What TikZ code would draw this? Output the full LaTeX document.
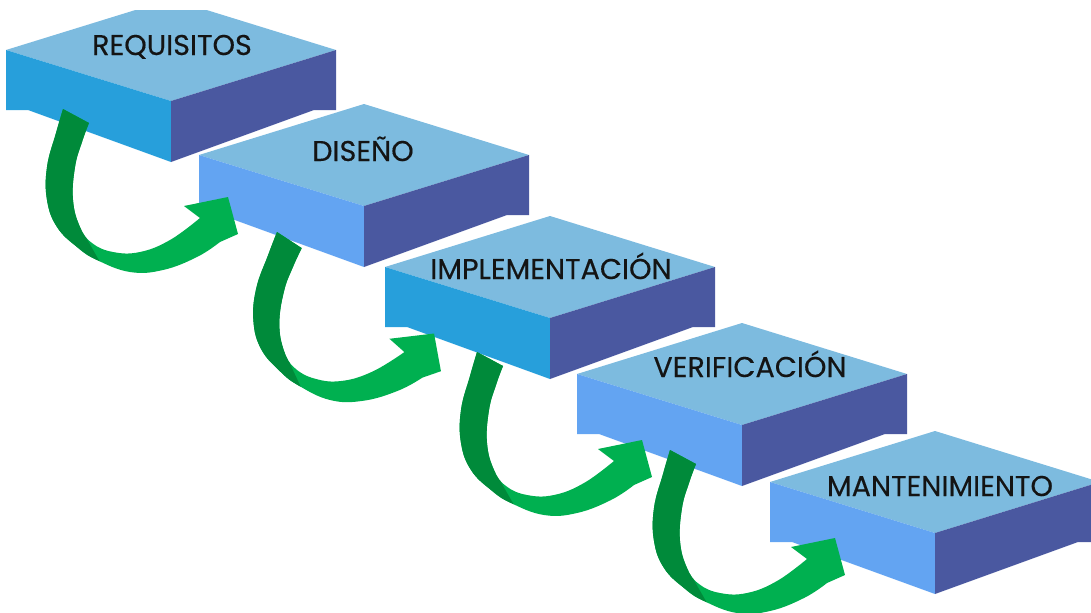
\documentclass[tikz,border=0pt]{standalone}
\usepackage{fontspec}
\newfontfamily\labelfont{Poppins}[FakeBold=0.3]

\definecolor{slabtop}{HTML}{7DBBDF}
\definecolor{sidecyan}{HTML}{279FDB}
\definecolor{sidesky}{HTML}{63A4F2}
\definecolor{slabright}{HTML}{4A58A0}
\definecolor{arrowdark}{HTML}{008A3A}
\definecolor{arrowlight}{HTML}{00B050}

% one stair step: #1 name, #2 x and #3 y of the front corner of the top face, #4 colour of the left face
\newcommand\slab[4]{%
  \begin{scope}[shift={(#2,#3)}]
    \coordinate (#1-f)  at (0,0);
    \coordinate (#1-l)  at (-165,-51);
    \coordinate (#1-r)  at (165,-51);
    \coordinate (#1-t)  at (0,-102);
    \coordinate (#1-fb) at (0,61);
    \coordinate (#1-lb) at (-165,9);
    \coordinate (#1-ln) at (-143,9);
    \coordinate (#1-rb) at (165,9);
    \coordinate (#1-rn) at (143,9);
    \fill[slabtop]   (#1-l) -- (#1-t) -- (#1-r) -- (#1-f) -- cycle;
    \fill[#4]        (#1-l) -- (#1-f) -- (#1-fb) -- (#1-ln) -- (#1-lb) -- cycle;
    \fill[slabright] (#1-f) -- (#1-r) -- (#1-rb) -- (#1-rn) -- (#1-fb) -- cycle;
  \end{scope}}

% outline of the curved ribbon arrow, tail corner at the origin
\newcommand\ribbonoutline{%
  plot[smooth,tension=0.7] coordinates {(0,0) (-7,24) (-16,58) (-16,91) (-6,118) (14,138) (34,151) (67,163) (100,161) (134,148) (157,133)}
  -- (175,125) -- (165,88) -- (121,97)
  -- plot[smooth,tension=0.7] coordinates {(137,109) (107,131) (77,143) (50,143) (29,134) (17,118) (10,91) (12,58) (19,33) (26,14)}
  -- cycle}

% #1 name, #2 tail corner, #3 rotation
\newcommand\ribbonarrow[3]{%
  \begin{scope}[shift={#2}, rotate=#3]
    \coordinate (#1-tail) at (0,0);
    \fill[arrowlight] \ribbonoutline;
    \begin{scope}
      \clip \ribbonoutline;
      \fill[arrowdark] (-40,-20) -- (60,-20) -- (50,100) -- (21,125) -- (37,153) -- (37,220) -- (-40,220) -- cycle;
    \end{scope}
  \end{scope}}

\begin{document}
\begin{tikzpicture}[x=0.02cm, y=-0.02cm,
  stagelabel/.style={font=\labelfont\fontsize{16.3}{18}\selectfont, text=black!92,
    inner sep=0pt, text height=11.4pt, text depth=0pt}]
  \useasboundingbox (0,0) rectangle (1091,612);
  \clip (0,10) rectangle (1091,612);

  \slab{s1}{171}{101}{sidecyan}
  \slab{s2}{364}{206}{sidesky}
  \slab{s3}{550}{318}{sidecyan}
  \slab{s4}{742}{425}{sidesky}
  \slab{s5}{935}{533}{sidesky}

  \ribbonarrow{a1}{(63,109)}{0}
  \ribbonarrow{a2}{(277,232)}{-4.8}
  \ribbonarrow{a3}{(477,352)}{0}
  \ribbonarrow{a4}{(670,450)}{0}

  \node[stagelabel] (req) at (172,45)  {REQUISITOS};
  \node[stagelabel] (dis) at (363,151) {DISEÑO};
  \node[stagelabel] (imp) at (551,269) {IMPLEMENTACIÓN};
  \node[stagelabel] (ver) at (750,367) {VERIFICACIÓN};
  \node[stagelabel] (man) at (940,486) {MANTENIMIENTO};
\end{tikzpicture}
\end{document}
